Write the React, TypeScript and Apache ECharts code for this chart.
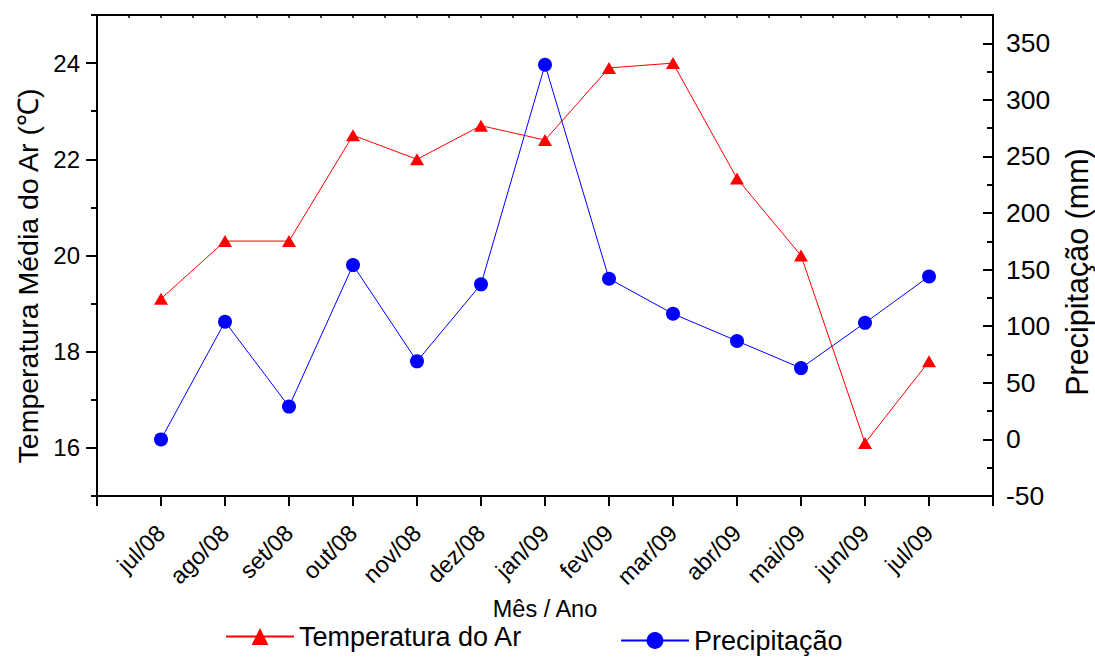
import React, { useEffect, useRef } from "react";
import * as echarts from "echarts";

const months = ["jul/08", "ago/08", "set/08", "out/08", "nov/08", "dez/08", "jan/09", "fev/09", "mar/09", "abr/09", "mai/09", "jun/09", "jul/09"];
const temperatura = [19.1, 20.3, 20.3, 22.5, 22.0, 22.7, 22.4, 23.9, 24.0, 21.6, 20.0, 16.1, 17.8];
const precipitacao = [0, 104, 29, 154, 69, 137, 331, 142, 111, 87, 63, 103, 144];
const tempTicks = [16, 18, 20, 22, 24];
const precTicks = [-50, 0, 50, 100, 150, 200, 250, 300, 350];

const FONT = "'Liberation Sans', Arial, Helvetica, sans-serif";
const BLACK = "#000000";

export default function App() {
  const ref = useRef<HTMLDivElement>(null);
  useEffect(() => {
    if (!ref.current) return;
    const chart = echarts.init(ref.current, undefined, { renderer: "svg" });
    const axisLine = { show: true, onZero: false, lineStyle: { color: BLACK, width: 2 } };
    chart.setOption({
      animation: false,
      backgroundColor: "#ffffff",
      textStyle: { fontFamily: FONT },
      grid: { left: 97, right: 102, top: 15, bottom: 161, containLabel: false },
      xAxis: [
        {
          type: "value",
          position: "bottom",
          min: -1,
          max: 13,
          interval: 1,
          axisLine,
          axisTick: { show: true, inside: false, length: 10, lineStyle: { color: BLACK, width: 2 } },
          axisLabel: {
            rotate: 45,
            margin: 33,
            fontSize: 23.5,
            color: BLACK,
            fontFamily: FONT,
            formatter: (v: number) => (months[v] !== undefined ? months[v] : ""),
          },
          splitLine: { show: false },
          name: "Mês / Ano",
          nameLocation: "middle",
          nameGap: 101,
          nameTextStyle: { fontSize: 23.5, color: BLACK, fontFamily: FONT },
        },
        {
          type: "value",
          position: "top",
          min: -1,
          max: 13,
          interval: 0.5,
          axisLine,
          axisTick: { show: true, inside: true, length: 3, lineStyle: { color: BLACK, width: 1.5 } },
          axisLabel: { show: false },
          splitLine: { show: false },
        },
      ],
      yAxis: [
        {
          type: "value",
          position: "left",
          min: 15,
          max: 25,
          interval: 1,
          axisLine,
          axisTick: { show: true, inside: false, length: 6, lineStyle: { color: BLACK, width: 2 } },
          axisLabel: { show: false },
          splitLine: { show: false },
        },
        {
          type: "value",
          position: "left",
          min: 15,
          max: 25,
          interval: 1,
          axisLine,
          axisTick: { show: true, inside: false, length: 11, customValues: tempTicks, lineStyle: { color: BLACK, width: 2 } },
          axisLabel: { show: true, customValues: tempTicks, margin: 17, fontSize: 24, color: BLACK, fontFamily: FONT },
          splitLine: { show: false },
        },
        {
          type: "value",
          position: "right",
          min: -50,
          max: 375,
          interval: 25,
          axisLine,
          axisTick: { show: true, inside: true, length: 6, lineStyle: { color: BLACK, width: 2 } },
          axisLabel: { show: false },
          splitLine: { show: false },
        },
        {
          type: "value",
          position: "right",
          min: -50,
          max: 375,
          interval: 25,
          axisLine,
          axisTick: { show: true, inside: true, length: 10, customValues: precTicks, lineStyle: { color: BLACK, width: 2 } },
          axisLabel: { show: true, customValues: precTicks, margin: 13, fontSize: 26.5, color: BLACK, fontFamily: FONT },
          splitLine: { show: false },
        },
      ],
      legend: [
        {
          data: ["Temperatura do Ar"],
          left: 225,
          top: 623,
          itemWidth: 68,
          itemHeight: 21,
          padding: 0,
          textStyle: { fontSize: 27, color: BLACK, fontFamily: FONT },
        },
        {
          data: ["Precipitação"],
          left: 620,
          top: 627,
          itemWidth: 68,
          itemHeight: 21,
          padding: 0,
          textStyle: { fontSize: 27, color: BLACK, fontFamily: FONT },
        },
      ],
      graphic: [
        {
          type: "text",
          x: 28,
          y: 276,
          rotation: Math.PI / 2,
          style: {
            text: "Temperatura Média do Ar (℃)",
            font: `28.5px ${FONT}`,
            fill: BLACK,
            textAlign: "center",
            textVerticalAlign: "middle",
          },
        },
        {
          type: "text",
          x: 1077,
          y: 272,
          rotation: Math.PI / 2,
          style: {
            text: "Precipitação (mm)",
            font: `30.5px ${FONT}`,
            fill: BLACK,
            textAlign: "center",
            textVerticalAlign: "middle",
          },
        },
      ],
      series: [
        {
          name: "Temperatura do Ar",
          type: "line",
          xAxisIndex: 0,
          yAxisIndex: 0,
          data: temperatura.map((v, i) => [i, v]),
          symbol: "triangle",
          symbolSize: [14, 12],
          lineStyle: { color: "#ff0000", width: 1 },
          itemStyle: { color: "#ff0000" },
          z: 3,
        },
        {
          name: "Precipitação",
          type: "line",
          xAxisIndex: 0,
          yAxisIndex: 2,
          data: precipitacao.map((v, i) => [i, v]),
          symbol: "circle",
          symbolSize: 14,
          lineStyle: { color: "#0000ff", width: 1 },
          itemStyle: { color: "#0000ff" },
          z: 4,
        },
      ],
    });
    return () => chart.dispose();
  }, []);
  return (
    <div
      ref={ref}
      style={{ position: "fixed", left: 0, top: 0, width: 1095, height: 657, background: "#fff" }}
    />
  );
}
